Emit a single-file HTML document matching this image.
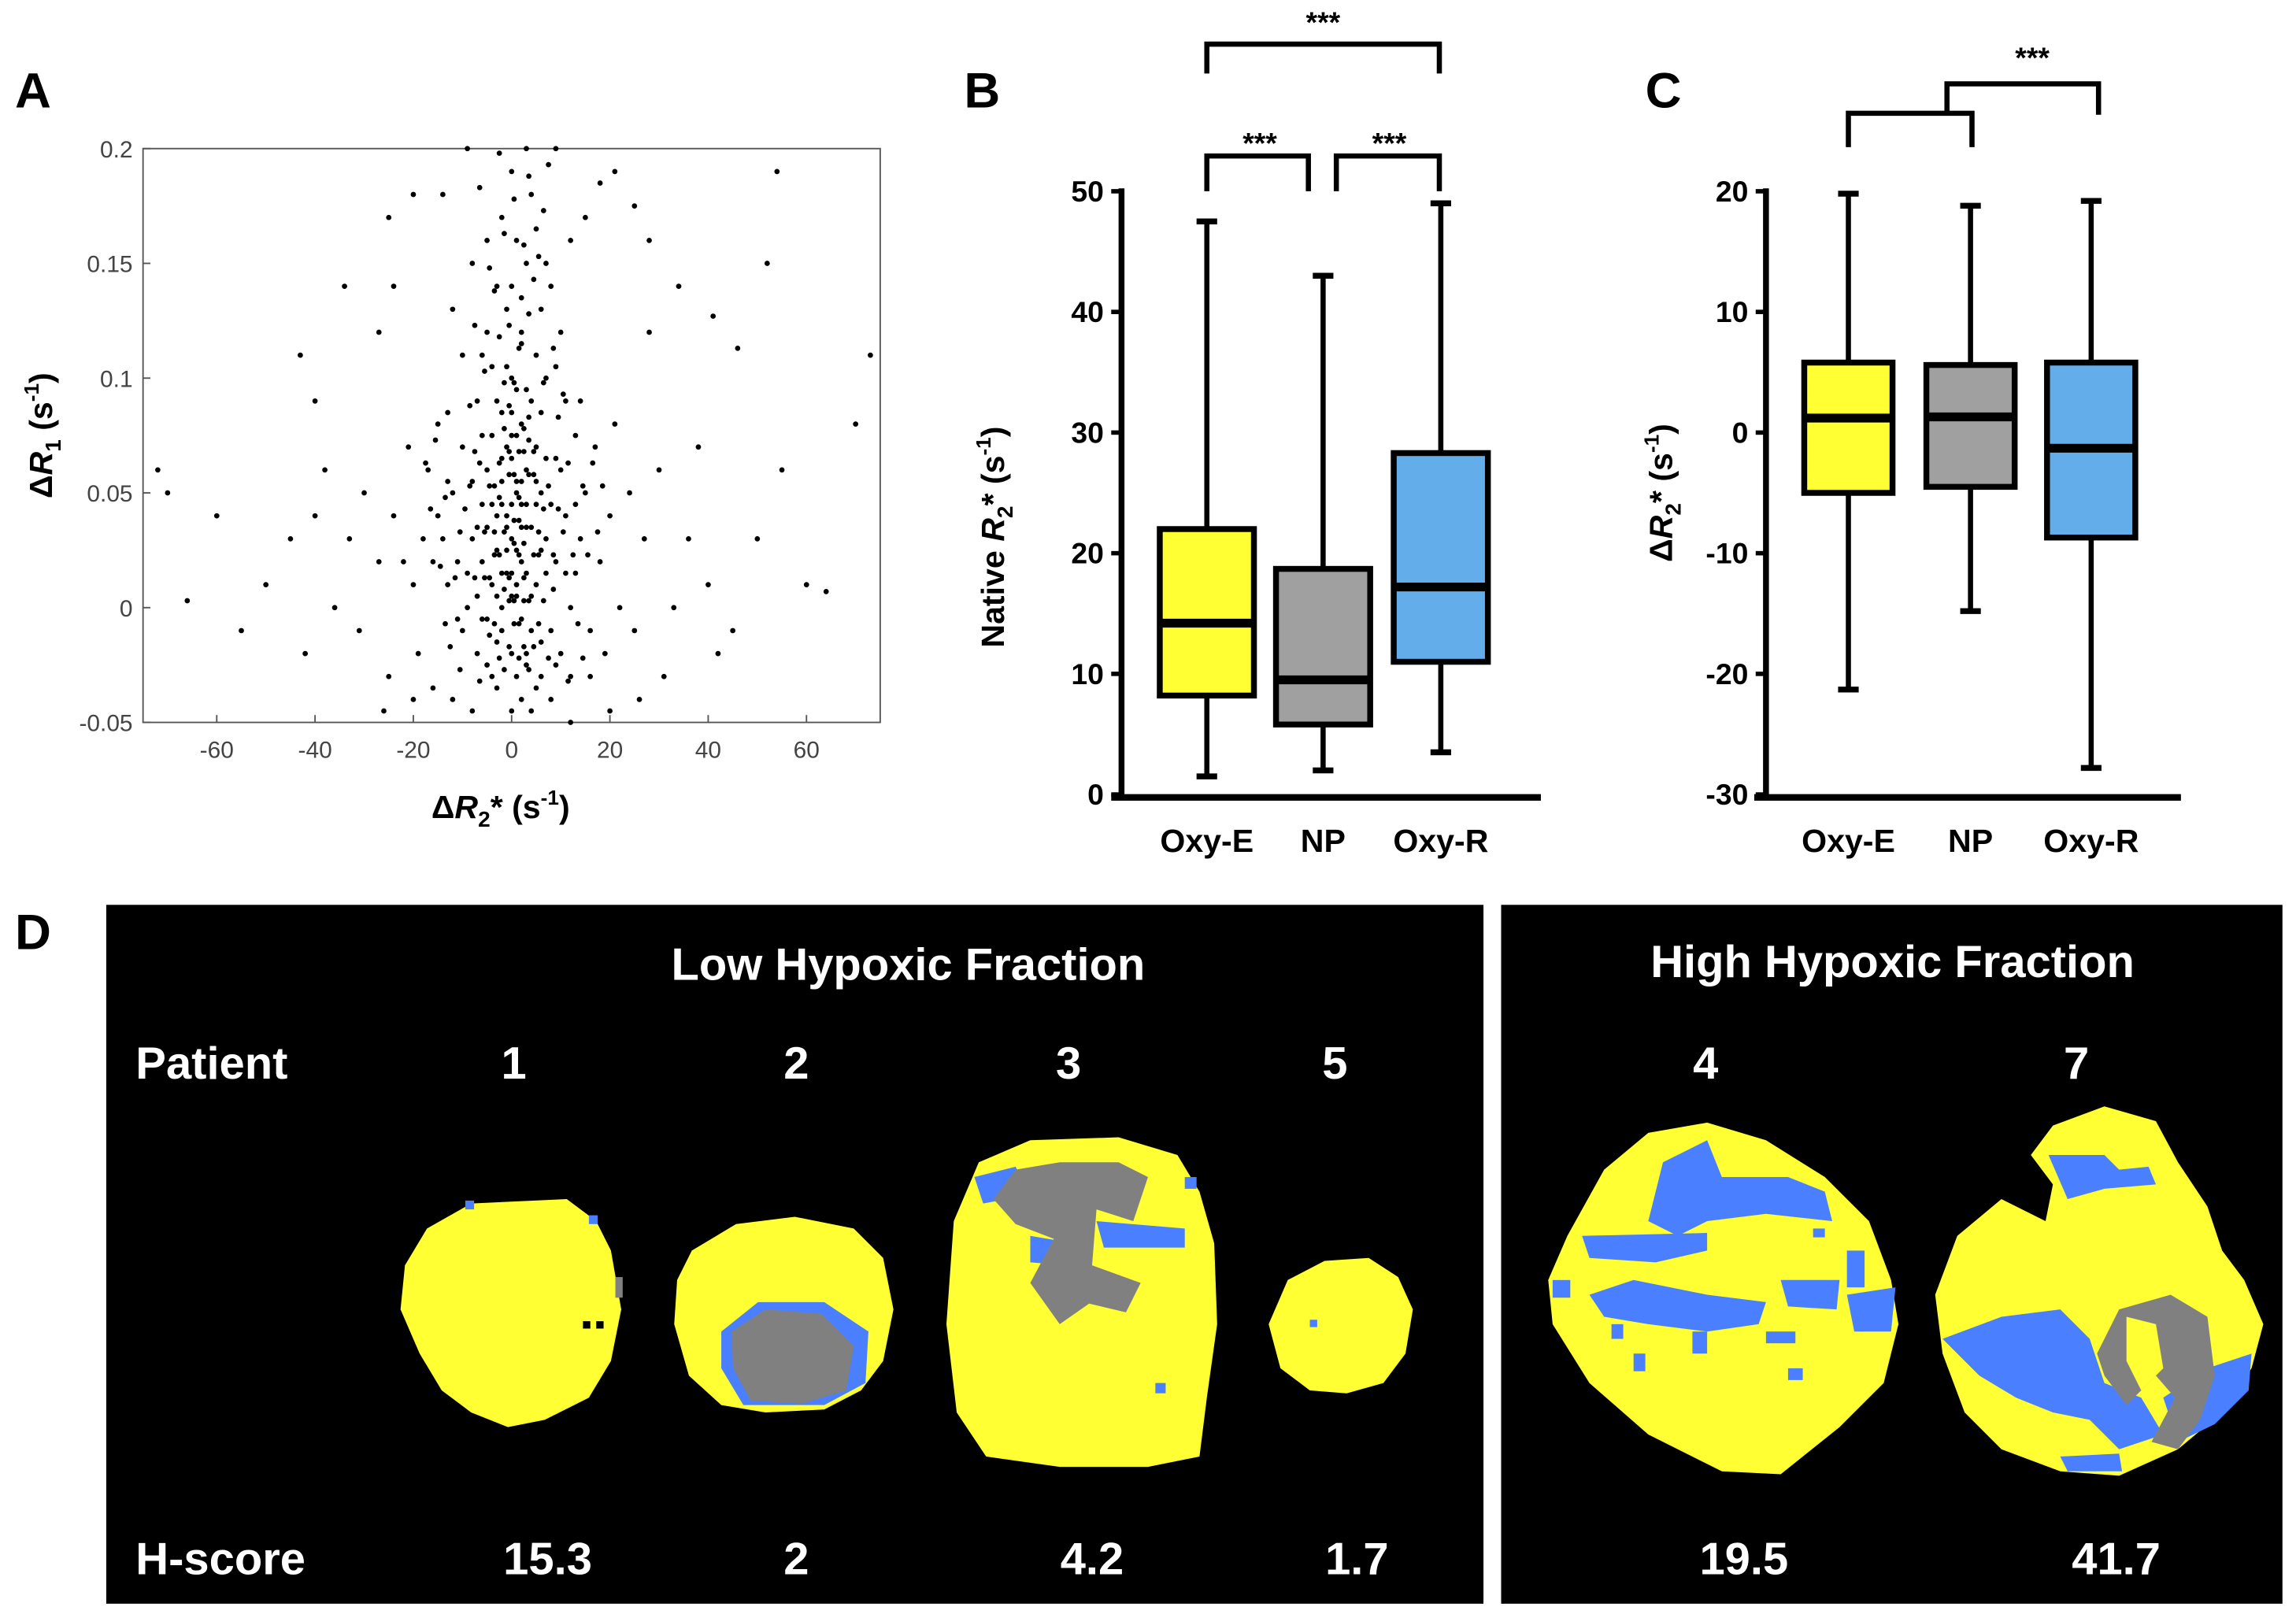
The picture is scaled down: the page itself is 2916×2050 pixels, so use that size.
<!DOCTYPE html>
<html><head><meta charset="utf-8"><style>
html,body{margin:0;padding:0;background:#fff;}
svg{display:block;}
text{font-family:"Liberation Sans",sans-serif;}
</style></head><body>
<svg id="fig" width="2916" height="2050" viewBox="0 0 1560 1097" xmlns="http://www.w3.org/2000/svg">
<text x="10" y="73" font-size="34" font-weight="bold">A</text>
<text x="655" y="73" font-size="34" font-weight="bold">B</text>
<text x="1118" y="73" font-size="34" font-weight="bold">C</text>
<text x="10" y="645" font-size="34" font-weight="bold">D</text>

<g id="panelA">
  <rect x="97" y="101" width="501" height="390" fill="none" stroke="#555" stroke-width="1"/>
  <g id="aTicks"></g>
  <g id="aPts"></g>
  <text x="340" y="556" font-size="22" font-weight="bold" text-anchor="middle">Δ<tspan font-style="italic">R</tspan><tspan font-size="15" dy="6">2</tspan><tspan dy="-6">* (s</tspan><tspan font-size="14" dy="-9">-1</tspan><tspan dy="9">)</tspan></text>
  <text transform="translate(35,296) rotate(-90)" font-size="22" font-weight="bold" text-anchor="middle">Δ<tspan font-style="italic">R</tspan><tspan font-size="15" dy="6">1</tspan><tspan dy="-6"> (s</tspan><tspan font-size="14" dy="-9">-1</tspan><tspan dy="9">)</tspan></text>
</g>

<g id="panelB"></g>
<g id="panelC"></g>

<text transform="translate(682,365) rotate(-90)" font-size="22" font-weight="bold" text-anchor="middle">Native <tspan font-style="italic">R</tspan><tspan font-size="15" dy="6">2</tspan><tspan dy="-6">* (s</tspan><tspan font-size="14" dy="-9">-1</tspan><tspan dy="9">)</tspan></text>
<text transform="translate(1136,335) rotate(-90)" font-size="22" font-weight="bold" text-anchor="middle">Δ<tspan font-style="italic">R</tspan><tspan font-size="15" dy="6">2</tspan><tspan dy="-6">* (s</tspan><tspan font-size="14" dy="-9">-1</tspan><tspan dy="9">)</tspan></text>

<g fill="none" stroke="#000" stroke-width="3.5">
  <polyline points="820,50 820,30 978,30 978,50"/>
  <polyline points="820,130 820,106 889,106 889,130"/>
  <polyline points="908,130 908,106 978,106 978,130"/>
</g>
<text x="899" y="22" font-size="20" font-weight="bold" text-anchor="middle">***</text>
<text x="856" y="104" font-size="20" font-weight="bold" text-anchor="middle">***</text>
<text x="944" y="104" font-size="20" font-weight="bold" text-anchor="middle">***</text>
<g fill="none" stroke="#000" stroke-width="3.5">
  <polyline points="1256,100 1256,77 1340,77 1340,100"/>
  <polyline points="1323,77 1323,57 1426,57 1426,78"/>
</g>
<text x="1381" y="46" font-size="20" font-weight="bold" text-anchor="middle">***</text>

<g>
  <rect x="72" y="615" width="936" height="475" fill="#000"/>
  <rect x="1020" y="615" width="531" height="475" fill="#000"/>
  <g fill="#fff" font-weight="bold" font-family="'Liberation Sans',sans-serif">
    <text x="617" y="666" font-size="31" text-anchor="middle">Low Hypoxic Fraction</text>
    <text x="1286" y="664" font-size="31" text-anchor="middle">High Hypoxic Fraction</text>
    <text x="92" y="733" font-size="31">Patient</text>
    <text x="92" y="1070" font-size="31">H-score</text>
    <g id="dLabels"></g>
  </g>
  <g>
    <polygon fill="#ffff33" points="290,835 320,818 385,815 405,830 415,850 422,890 415,925 400,950 370,965 345,970 320,960 300,945 285,920 272,890 275,860"/>
    <rect x="400" y="826" width="6" height="6" fill="#4a80ff"/><rect x="316" y="816" width="6" height="6" fill="#4a80ff"/>
    <rect x="418" y="868" width="5" height="14" fill="#808080"/><rect x="396" y="898" width="5" height="5" fill="#000"/><rect x="405" y="898" width="5" height="5" fill="#000"/>
  </g>
  <g>
    <polygon fill="#ffff33" points="470,850 500,832 540,827 580,835 600,855 607,890 600,925 585,945 560,958 520,960 490,955 468,935 458,900 460,870"/>
    <polygon fill="#4a80ff" points="490,905 515,885 560,885 590,905 588,940 560,955 505,955 490,930"/>
    <polygon fill="#808080" points="497,905 520,890 558,893 580,915 575,945 545,954 510,952 498,930"/>
  </g>
  <g>
    <polygon fill="#ffff33" points="665,790 700,775 760,773 800,785 815,810 825,845 827,900 820,950 815,990 780,997 720,997 670,990 650,960 643,900 648,830"/>
    <polygon fill="#4a80ff" points="662,800 690,793 700,812 668,818"/>
    <polygon fill="#4a80ff" points="745,830 805,835 805,848 750,848"/>
    <polygon fill="#4a80ff" points="700,840 730,845 725,860 700,858"/>
    <polygon fill="#808080" points="690,795 720,790 760,790 780,800 770,830 745,822 742,860 775,872 765,892 740,886 720,900 700,872 716,842 690,832 675,815"/>
    <rect x="805" y="800" width="8" height="8" fill="#4a80ff"/><rect x="785" y="940" width="7" height="7" fill="#4a80ff"/>
  </g>
  <g>
    <polygon fill="#ffff33" points="875,870 900,857 930,855 950,868 960,890 955,920 940,940 915,947 890,945 870,930 862,900"/>
    <rect x="890" y="897" width="5" height="5" fill="#4a80ff"/>
  </g>
  <g>
    <polygon fill="#ffff33" points="1065,840 1090,795 1120,770 1160,763 1200,775 1240,800 1270,830 1285,870 1290,900 1280,940 1250,970 1210,1002 1170,1000 1120,975 1080,940 1055,900 1052,870"/>
    <g fill="#4a80ff">
      <polygon points="1130,790 1160,775 1170,800 1215,800 1240,810 1245,830 1200,825 1160,830 1140,840 1120,830"/>
      <polygon points="1075,840 1160,838 1160,850 1125,858 1080,855"/>
      <polygon points="1080,880 1110,870 1160,880 1200,885 1195,900 1160,905 1120,900 1090,895"/>
      <polygon points="1210,870 1250,870 1248,890 1215,888"/>
      <polygon points="1255,880 1288,875 1285,905 1260,905"/>
      <rect x="1232" y="835" width="8" height="6"/><rect x="1095" y="900" width="8" height="10"/>
      <rect x="1150" y="905" width="10" height="15"/><rect x="1255" y="850" width="12" height="25"/>
      <rect x="1110" y="920" width="8" height="12"/><rect x="1215" y="930" width="10" height="8"/>
      <rect x="1055" y="870" width="12" height="12"/><rect x="1200" y="905" width="20" height="8"/>
    </g>
  </g>
  <g>
    <polygon fill="#ffff33" points="1330,840 1360,815 1390,830 1395,805 1380,785 1395,765 1430,752 1465,762 1480,790 1500,820 1510,850 1525,870 1538,900 1530,930 1510,960 1480,985 1440,1003 1400,1000 1360,985 1335,960 1320,920 1315,880"/>
    <g fill="#4a80ff">
      <polygon points="1392,785 1430,785 1440,795 1460,793 1465,805 1430,808 1405,815"/>
      <polygon points="1320,910 1360,895 1400,890 1420,910 1430,940 1455,950 1470,975 1440,985 1420,965 1395,960 1370,950 1345,935"/>
      <polygon points="1470,950 1500,930 1530,920 1528,945 1505,968 1480,980"/>
      <polygon points="1400,990 1440,988 1442,1000 1405,1000"/>
    </g>
    <polygon fill="#808080" points="1425,920 1440,890 1475,880 1500,895 1505,935 1495,965 1480,985 1462,980 1478,950 1465,935 1445,955 1430,935"/>
    <polygon fill="#ffff33" points="1445,895 1465,900 1470,930 1455,945 1445,925"/>
  </g>
</g>

<script>
// ---------- Panel A data ----------
const dR2 = [0,2,-3,5,-6,1,3,-2,4,-4,7,-8,0,6,-1,2,-5,9,-9,11,-11,1,3,-2,8,-7,5,-3,0,4,12,-12,14,-14,10,-10,6,-4,2,-1,1,0,-1,3,-2,2,5,-5,7,-7,8,-8,9,6,-6,13,-13,15,-15,16,-16,10,-10,12,-3,4,0,1,-2,3,-4,5,7,-7,2,-1,0,3,1,-2,4,0,6,-5,8,-8,10,-10,12,-12,14,17,-17,18,-18,20,-20,22,-22,19,-19,24,-24,21,-21,25,-25,27,-27,30,-30,33,-33,36,-36,40,-40,45,-45,50,-50,55,-55,60,-60,70,-70,73,-72,64,-66,52,54,41,46,-43,-40,-34,-24,-20,-25,-14,25,28,21,18,15,-9,9,3,-5,5,-3,2,7,-6,9,11,-13,13,-15,28,-27,34,38,-38,42,-42,31,-31,26,-26,12,-12,8,-8,16,-16,20,-20,0,5,-5,1,-1,2,-3,4,-4,6,-6,1,-2,3,-3,0,2,-2,4,5,-5,7,-7,0,1,-1,2,11,-11,9,-9,13,-13,3,-3,6,-6,0,1,-1,2,-2,0,3,-4];
const dR1 = [0.03,0.02,0.04,0.01,0.02,0.05,0.06,0.0,-0.01,0.01,0.03,0.03,-0.02,0.05,0.07,0.08,0.06,0.02,0.0,0.04,0.02,-0.03,-0.02,-0.01,-0.01,-0.02,0.07,0.09,0.1,0.09,0.0,0.05,0.03,0.03,0.06,0.07,-0.03,-0.03,-0.04,0.04,0.01,0.015,0.025,0.035,0.045,0.055,0.045,0.035,0.015,0.005,0.045,0.055,0.065,0.085,0.075,0.015,0.01,0.05,0.04,-0.01,0.02,-0.02,-0.01,-0.03,-0.035,-0.045,0.065,0.075,0.085,0.095,0.105,0.11,0.1,0.09,0.12,0.13,0.14,0.15,0.16,0.17,0.18,0.19,0.13,0.12,0.14,0.15,0.12,0.11,0.16,0.13,0.09,0.07,0.06,0.02,0.03,0.04,0.01,0.0,0.02,-0.02,-0.02,0.05,0.04,0.08,0.07,-0.01,-0.03,0.03,0.02,0.06,0.05,0.0,0.03,0.03,0.0,0.01,0.04,-0.01,0.03,0.03,0.01,0.06,-0.01,0.01,0.04,0.08,0.05,0.11,0.06,0.007,0.003,0.15,0.19,0.127,0.113,0.11,0.09,0.14,0.14,0.18,0.17,0.18,0.175,0.16,0.19,0.185,0.17,0.2,0.2,0.2,0.16,0.165,0.14,0.135,0.15,0.11,0.105,0.09,0.085,0.075,0.08,0.12,0.12,0.14,0.07,0.06,-0.02,-0.02,-0.03,-0.01,-0.04,-0.045,-0.05,-0.04,-0.04,-0.045,-0.03,-0.035,-0.045,-0.04,-0.045,-0.035,-0.025,0.005,0.035,0.045,0.025,0.035,0.045,0.025,0.045,0.055,0.065,0.015,0.005,0.005,-0.005,0.015,0.005,0.055,-0.005,0.065,0.035,0.085,0.095,0.105,0.115,0.015,-0.005,-0.025,0.015,0.045,0.055,-0.025,-0.015,-0.015,-0.005,0.045,0.025,0.015,0.035,0.055,0.075,0.045,0.075];
const dR2core = [-1,1,3,-3,5,-5,2,-2,4,-4,0,1,-1,2,-2,3,-3,4,-4,6,-6,7,-7,8,-8,9,-9,10,-10,11,-11,12,-12,6,-6,5,-5,4,-4,3,-3,2,-2,1,-1,0,7,-7,8,-8,9,-9,10,0,1,-1,3,-3,4,-4,5,-5,2,-2,6,0,3,-3,7,-7,14,-14,15,-15,16,-16,17,-17,18,-18,13,-13,14,-14,11,-11,6,-6,8,-8,0,1,-1,2,-2,3,-3,4,-4,5,-5,0,1,-1,2,-2,3,0,1,-1,2];
const dR1core = [0.0,-0.01,0.0,0.02,0.02,0.01,0.01,0.03,0.02,0.03,0.055,0.035,0.055,0.065,0.075,0.07,0.06,0.055,0.05,0.04,0.03,0.05,0.06,0.02,0.01,0.04,0.05,0.03,0.04,0.06,0.03,0.02,0.01,0.0,0.01,-0.01,-0.015,-0.02,-0.01,-0.03,-0.025,-0.02,-0.03,-0.025,-0.02,-0.01,-0.025,-0.035,0.005,0.065,0.08,0.085,0.09,0.095,0.11,0.12,0.125,0.115,0.14,0.135,0.15,0.145,0.155,0.16,0.17,0.175,0.185,0.195,0.19,0.18,0.05,0.045,0.02,0.015,0.06,0.07,0.03,0.04,0.05,0.06,-0.01,-0.02,-0.025,-0.01,-0.035,-0.03,0.095,0.1,0.11,0.12,0.035,0.045,0.065,0.025,0.005,0.055,0.045,0.065,0.02,0.03,0.05,0.025,0.065,0.085,0.075,0.095,0.08,0.0,0.02,0.01,0.0];
const aXTicks = [-60,-40,-20,0,20,40,60];
const aYTicks = [-0.05,0,0.05,0.1,0.15,0.2];
const aYTickLabels = ["-0.05","0","0.05","0.1","0.15","0.2"];

// ---------- Panel B data ----------
const bCats = ["Oxy-E","NP","Oxy-R"];
const bWhiskLo = [1.5,2,3.5];
const bQ1 = [8.2,5.8,11];
const bMed = [14.2,9.5,17.2];
const bQ3 = [22,18.7,28.3];
const bWhiskHi = [47.5,43,49];
const bTicks = [0,10,20,30,40,50];

// ---------- Panel C data ----------
const cCats = ["Oxy-E","NP","Oxy-R"];
const cWhiskLo = [-21.3,-14.8,-27.8];
const cQ1 = [-5,-4.5,-8.7];
const cMed = [1.2,1.3,-1.3];
const cQ3 = [5.8,5.6,5.8];
const cWhiskHi = [19.8,18.8,19.2];
const cTicks = [-30,-20,-10,0,10,20];

// ---------- Panel D data ----------
const patients = ["1","2","3","5","4","7"];
const hScores = ["15.3","2","4.2","1.7","19.5","41.7"];

const NS = "http://www.w3.org/2000/svg";
function mk(tag, attrs, parent){const e=document.createElementNS(NS,tag);for(const k in attrs)e.setAttribute(k,attrs[k]);parent.appendChild(e);return e;}

const ax = v => 97 + (v + 75) / 150 * 501;
const ay = v => 491 - (v + 0.05) / 0.25 * 390;
const aT = document.getElementById('aTicks');
aXTicks.forEach(t=>{
  const l=mk('line',{x1:ax(t),x2:ax(t),y1:491,y2:486,stroke:'#555','stroke-width':1},aT);
  
  
  const tx=mk('text',{x:ax(t),y:515,'font-size':16,fill:'#444','text-anchor':'middle'},aT);
  tx.textContent=String(t);
  
  
});
aYTicks.forEach((t,i)=>{
  const l=mk('line',{x1:97,x2:102,y1:ay(t),y2:ay(t),stroke:'#555','stroke-width':1},aT);
  
  
  const tx=mk('text',{x:90,y:ay(t)+6,'font-size':16,fill:'#444','text-anchor':'end'},aT);
  tx.textContent=aYTickLabels[i];
  
  
});
const aP=document.getElementById('aPts');
dR2.forEach((x,i)=>{
  const c=mk('circle',{cx:ax(x),cy:ay(dR1[i]),r:1.8,fill:'#000'},aP);
  
  
});
dR2core.forEach((x,i)=>{
  const c=mk('circle',{cx:ax(x+0.5),cy:ay(dR1core[i]+0.003),r:1.8,fill:'#000'},aP);
  
  
});

function boxplot(gid, cats, lo, q1, med, q3, hi, ticks, yMin, yMax, axisX, axisY0, axisY1, xAxisL, xAxisR, centers, halfW, colors, prefix){
  const g=document.getElementById(gid);
  const y=v=> axisY1 + (yMax - v)/(yMax-yMin)*(axisY0-axisY1);
  mk('line',{x1:axisX,x2:axisX,y1:axisY1-2,y2:axisY0+2,stroke:'#000','stroke-width':4},g);
  mk('line',{x1:xAxisL,x2:xAxisR,y1:axisY0+2,y2:axisY0+2,stroke:'#000','stroke-width':4.5},g);
  ticks.forEach(t=>{
    const l=mk('line',{x1:axisX-7,x2:axisX,y1:y(t),y2:y(t),stroke:'#000','stroke-width':3},g);
    
    
    const tx=mk('text',{x:axisX-12,y:y(t)+7,'font-size':20,'font-weight':'bold','text-anchor':'end'},g);
    tx.textContent=String(t);
    
    
  });
  cats.forEach((c,i)=>{
    const cx=centers[i];
    const w=mk('line',{x1:cx,x2:cx,y1:y(hi[i]),y2:y(lo[i]),stroke:'#000','stroke-width':3.5},g);
    
    
    [hi[i],lo[i]].forEach(v=>{
      const cap=mk('line',{x1:cx-7,x2:cx+7,y1:y(v),y2:y(v),stroke:'#000','stroke-width':4},g);
      
      
    });
    const b=mk('rect',{x:cx-halfW,y:y(q3[i]),width:2*halfW,height:y(q1[i])-y(q3[i]),fill:colors[i],stroke:'#000','stroke-width':4},g);
    
    
    const m=mk('line',{x1:cx-halfW,x2:cx+halfW,y1:y(med[i]),y2:y(med[i]),stroke:'#000','stroke-width':6},g);
    
    
    const lb=mk('text',{x:cx,y:axisY0+39,'font-size':22,'font-weight':'bold','text-anchor':'middle'},g);
    lb.textContent=c;
    
    
  });
}
const boxColors=['#ffff33','#a0a0a0','#63aeea'];
boxplot('panelB',bCats,bWhiskLo,bQ1,bMed,bQ3,bWhiskHi,bTicks,0,50,762,540,130,755,1047,[820,899,979],32,boxColors,'b');
boxplot('panelC',cCats,cWhiskLo,cQ1,cMed,cQ3,cWhiskHi,cTicks,-30,20,1200,540,130,1192,1482,[1256,1339,1421],30,boxColors,'c');

const pX=[349,541,726,907,1159,1411];
const hX=[372,541,742,922,1185,1438];
const dL=document.getElementById('dLabels');
patients.forEach((p,i)=>{
  const t=mk('text',{x:pX[i],y:733,'font-size':31,'text-anchor':'middle'},dL);
  t.textContent=p;
  
  
  const h=mk('text',{x:hX[i],y:1070,'font-size':31,'text-anchor':'middle'},dL);
  h.textContent=hScores[i];
  
  
});
</script>
</svg>
</body></html>
